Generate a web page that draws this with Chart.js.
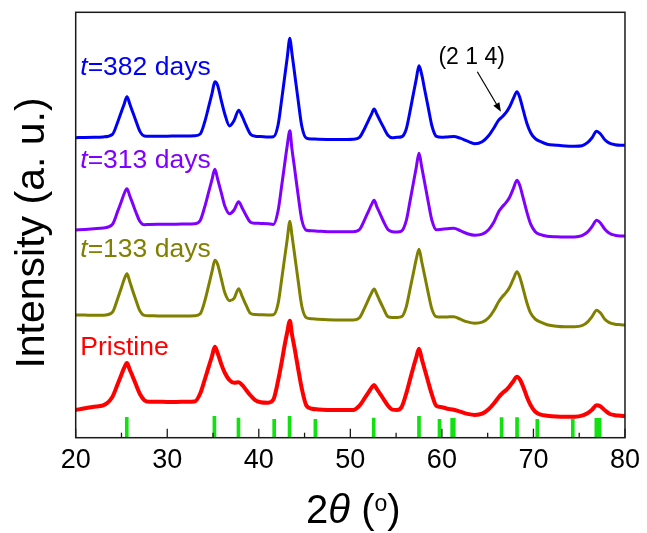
<!DOCTYPE html>
<html><head><meta charset="utf-8">
<script src="https://cdn.jsdelivr.net/npm/chart.js@4.4.1/dist/chart.umd.min.js"></script>
<style>html,body{margin:0;padding:0;background:#fff;}#wrap{width:647px;height:533px;}</style>
</head><body><div id="wrap"><canvas id="c" width="647" height="533"></canvas></div>
<script>
// 2-theta grid (degrees)
const angles = [20,21,22,23,24,24.6,25,25.3,25.6,25.9,
26.2,26.6,27,27.5,28,29,30,31,32,33,
33.6,34.1,34.5,34.9,35.2,35.5,35.9,36.3,36.8,37.3,
37.8,38.2,38.6,39.1,39.6,40.2,41,41.6,42.1,42.5,
42.8,43.1,43.4,43.6,43.9,44.3,44.7,45.2,45.8,46.5,
47.5,48.5,49.5,50.3,51,51.6,52,52.3,52.6,52.9,
53.2,53.6,54.1,54.6,55.1,55.6,56.1,56.5,56.9,57.2,
57.5,57.8,58.1,58.5,58.9,59.4,60,60.6,61.3,62,
62.8,63.6,64.4,65.1,65.7,66.2,66.6,67,67.4,67.8,
68.2,68.5,68.9,69.3,69.7,70.2,70.8,71.5,72.5,73.5,
74.5,75.3,75.9,76.4,76.9,77.3,77.8,78.3,78.9,79.5,80];

// intensities (arbitrary units, vertically offset traces)
const days382 = [300,300.3,300.5,300.8,303.2,316,326.2,333.8,341,334,
326.3,316.2,306.6,301.7,301.4,301.4,301.5,301.7,301.8,302,
303.7,316,330,344.6,356,352.5,337.3,323.2,311.8,317.1,
327.5,321,312.5,303.5,301.5,301.2,300.8,301,312.4,338.1,
359,379.7,399.5,386,365.2,337.3,311.4,299.5,298.7,298.5,
298.3,298.2,298.3,298.5,300.4,310,317.6,323.3,328.6,323.5,
317.9,310.8,302.5,300,300.4,300.9,308.5,325.5,344.6,358.6,
371.9,363,349,330.6,312.2,301.3,300.5,300.8,301.2,299.5,
296.5,294,296,302,310,317.5,321,325,331,339,
346,340.5,327,314,305,299,296,293.5,292.5,291.7,
291.5,292,295,300,306.5,304,298,294.5,293,292.5,292.5];

const days313 = [207.7,208.3,209,209.8,213.2,226.8,236.6,244.2,249,242,
234.8,225,216.5,213,213.2,213.4,213.5,213.5,213.7,214,
217.2,231,244.8,258.6,268.5,258.8,245,231.5,224,227.7,
236,229.5,222.5,215.5,214.5,214.3,214,213.3,226.7,251.9,
272.1,291.8,307,290.3,270.1,242.3,217.7,207.5,207,206.5,
206,206,206,206,208.2,218.9,226.8,232.8,237.5,230.9,
224.9,216.7,208.2,206,205.8,206.8,216.8,235.6,255.4,270.3,
284.4,270.6,256,236.3,217.7,208,208.5,209,209.5,207,
204,202.5,203.5,208,216,226,231,235,240.5,249,
257.5,252.5,239,225,213.5,206,203,201.5,201,200.8,
200.8,202,205.5,211,217.5,215,208.5,204.5,202.5,201.8,201.7];

const days133 = [122.7,122.6,122.5,122.5,125.3,139.5,150.3,158.4,164,156.3,
147.7,137,127.1,122.3,122,121.8,121.7,121.7,121.8,122,
123.9,136.7,151.3,166.5,177.5,173.5,159,144.6,137,139.3,
149,141,132.8,124.3,123.2,123,122.8,123,133.8,158.4,
178.3,198,216.5,204,183.9,156.9,131.5,120,119,118.5,
118,117.8,117.7,117.8,120,130.6,138.6,144.5,148.8,143.3,
137.2,129.6,121,120.2,120.3,121,130.6,147.6,165.3,178.5,
188.5,176,162.8,145.1,128.8,120.9,120.6,120.8,121,118.5,
115.8,114.5,115.5,120,127.5,136,141,145,150.5,158.5,
166,161,148,134.5,124.5,118.5,115.5,113,111.5,111,
111,112,115.5,121,127.5,125,118.5,115,113.5,113,112.7];

const pristine = [27.7,29.5,31,32.3,40.7,54,63.2,70,74.8,68.2,
61.8,52.6,44,37.5,36,36,35.8,35.8,36,36.3,
44.2,58.2,70.1,81.9,91,84.7,73.6,64.7,57.5,55,
55.5,52.5,47.9,42.2,37.6,35.5,35,38.3,56.7,75.5,
91.3,105.2,117,104.7,90,68.9,49,32.1,29,28.3,
27.8,27.7,27.7,27.7,32,40,45.6,49.7,52.7,48.5,
44.6,39,32.2,28.1,27.8,30.7,44,57.4,71,80.3,
89,78.8,69,55.9,43.4,31.8,30.5,29,28,26,
23.8,22.7,24,28.5,34.5,40.5,44.5,47.5,51.5,56.5,
61,58.5,50.5,40.5,32.5,26,23,22,21.2,21,
21,22,24.5,28,32.5,31.5,27.5,24,22.5,22,21.7];

// reference pattern positions and stick heights
const refPeaks = [25.58,35.15,37.78,41.68,43.36,46.18,52.55,57.50,59.74,61.12,61.30,66.52,68.21,70.42,74.30,76.87,77.23];
const refHeights = [20.4,21.4,19.7,18.4,21.4,18.4,19.7,21.4,18.4,19.4,19.4,20,20,18.4,18.4,19.4,19.4];

const xTicks = [20,30,40,50,60,70,80];
const xMinorTicks = [25,35,45,55,65,75];

const seriesNames = ['Pristine','133 days','313 days','382 days'];
const seriesColors = ['#ff0000','#808000','#8000ff','#0000f5'];
// label anchor (data units) for each trace label
const labelX = [20.5,20.5,20.5,20.5];
const labelY = [82.7,180.7,269.7,362.7];
// annotation (2 1 4)
const annText = '(2 1 4)';
const annTextPos = [63.25, 379.7];
const annArrowFrom = [63.87, 366];
const annArrowTo = [66.45, 326];

const FONT = '"Liberation Sans", Arial, sans-serif';
const pts = arr => angles.map((a,i)=>({x:a, y:arr[i]}));

const overlay = {
  id:'overlay',
  afterDraw(chart){
    const ctx = chart.ctx, ca = chart.chartArea;
    const xs = chart.scales.x, ys = chart.scales.y;
    ctx.save();
    ctx.strokeStyle = '#1a1a1a'; ctx.lineWidth = 1.5;
    ctx.strokeRect(ca.left, ca.top, ca.right-ca.left, ca.bottom-ca.top);
    ctx.lineWidth = 1.3;
    xTicks.concat(xMinorTicks).forEach(v=>{
      const px = xs.getPixelForValue(v);
      const len = xTicks.includes(v) ? 9 : 5;
      ctx.beginPath(); ctx.moveTo(px, ca.bottom); ctx.lineTo(px, ca.bottom-len); ctx.stroke();
    });
    ctx.fillStyle = '#000';
    ctx.save();
    ctx.translate(44, 233); ctx.rotate(-Math.PI/2);
    ctx.font = '41px ' + FONT; ctx.textAlign='center'; ctx.textBaseline='alphabetic';
    ctx.fillText('Intensity (a. u.)', 0, 0);
    ctx.restore();
    const parts = [
      {t:'2', f:'40px '+FONT, dy:0},
      {t:'\u03B8', f:'italic 40px '+FONT, dy:0},
      {t:' (', f:'40px '+FONT, dy:0},
      {t:'o', f:'23px '+FONT, dy:-12},
      {t:')', f:'40px '+FONT, dy:0}
    ];
    let tw = 0;
    parts.forEach(p=>{ctx.font=p.f; p.w=ctx.measureText(p.t).width; tw+=p.w;});
    let cx = (ca.left+ca.right)/2 + 3 - tw/2;
    ctx.textAlign='left'; ctx.textBaseline='alphabetic';
    parts.forEach(p=>{ctx.font=p.f; ctx.fillText(p.t, cx, 523+p.dy); cx+=p.w;});
    seriesNames.forEach((name,i)=>{
      const px = xs.getPixelForValue(labelX[i]), py = ys.getPixelForValue(labelY[i]);
      ctx.fillStyle = seriesColors[i];
      if (name === 'Pristine') {
        ctx.font = '26.5px '+FONT; ctx.fillText(name, px, py);
      } else {
        ctx.font = 'italic 26.5px '+FONT; ctx.fillText('t', px, py);
        const w = ctx.measureText('t').width;
        ctx.font = '26.5px '+FONT; ctx.fillText('='+name, px+w, py);
      }
    });
    ctx.fillStyle = '#000'; ctx.strokeStyle='#000';
    ctx.font = '23px '+FONT; ctx.textAlign='center'; ctx.textBaseline='middle';
    ctx.fillText(annText, xs.getPixelForValue(annTextPos[0]), ys.getPixelForValue(annTextPos[1]));
    const x1=xs.getPixelForValue(annArrowFrom[0]), y1=ys.getPixelForValue(annArrowFrom[1]);
    const x2=xs.getPixelForValue(annArrowTo[0]), y2=ys.getPixelForValue(annArrowTo[1]);
    const ang=Math.atan2(y2-y1,x2-x1), hl=9, hw=3.5;
    ctx.lineWidth=1.2;
    ctx.beginPath(); ctx.moveTo(x1,y1); ctx.lineTo(x2-hl*Math.cos(ang)*0.8,y2-hl*Math.sin(ang)*0.8); ctx.stroke();
    ctx.beginPath();
    ctx.moveTo(x2,y2);
    ctx.lineTo(x2-hl*Math.cos(ang)+hw*Math.sin(ang), y2-hl*Math.sin(ang)-hw*Math.cos(ang));
    ctx.lineTo(x2-hl*Math.cos(ang)-hw*Math.sin(ang), y2-hl*Math.sin(ang)+hw*Math.cos(ang));
    ctx.closePath(); ctx.fill();
    ctx.restore();
  }
};

const lineDs = (arr, color, w) => ({
  type:'line', data: pts(arr), borderColor: color, borderWidth: w,
  pointRadius:0, fill:false, cubicInterpolationMode:'monotone'
});

new Chart(document.getElementById('c'), {
  type:'line',
  data:{ datasets:[
    {type:'bar', data: refPeaks.map((x,i)=>({x, y:refHeights[i]})), backgroundColor:'#11e011', barThickness:3, borderWidth:0},
    lineDs(pristine, seriesColors[0], 4),
    lineDs(days133, seriesColors[1], 3),
    lineDs(days313, seriesColors[2], 3),
    lineDs(days382, seriesColors[3], 3)
  ]},
  options:{
    responsive:false, animation:false, devicePixelRatio:1,
    layout:{autoPadding:false, padding:{left:0, right:21.5, top:12.3, bottom:0}},
    plugins:{legend:{display:false}, tooltip:{enabled:false}},
    scales:{
      x:{type:'linear', min:20, max:80, offset:false,
         grid:{display:false, drawTicks:false}, border:{display:false},
         afterBuildTicks: s => { s.ticks = xTicks.map(v=>({value:v})); },
         afterFit: s => { s.height = 95.3; },
         ticks:{font:{size:27, family:FONT}, color:'#000', padding:7, maxRotation:0, autoSkip:false}},
      y:{type:'linear', min:0, max:425.4,
         grid:{display:false, drawTicks:false}, border:{display:false},
         ticks:{display:false},
         afterFit: s => { s.width = 75.7; }}
    }
  },
  plugins:[overlay]
});
</script></body></html>
